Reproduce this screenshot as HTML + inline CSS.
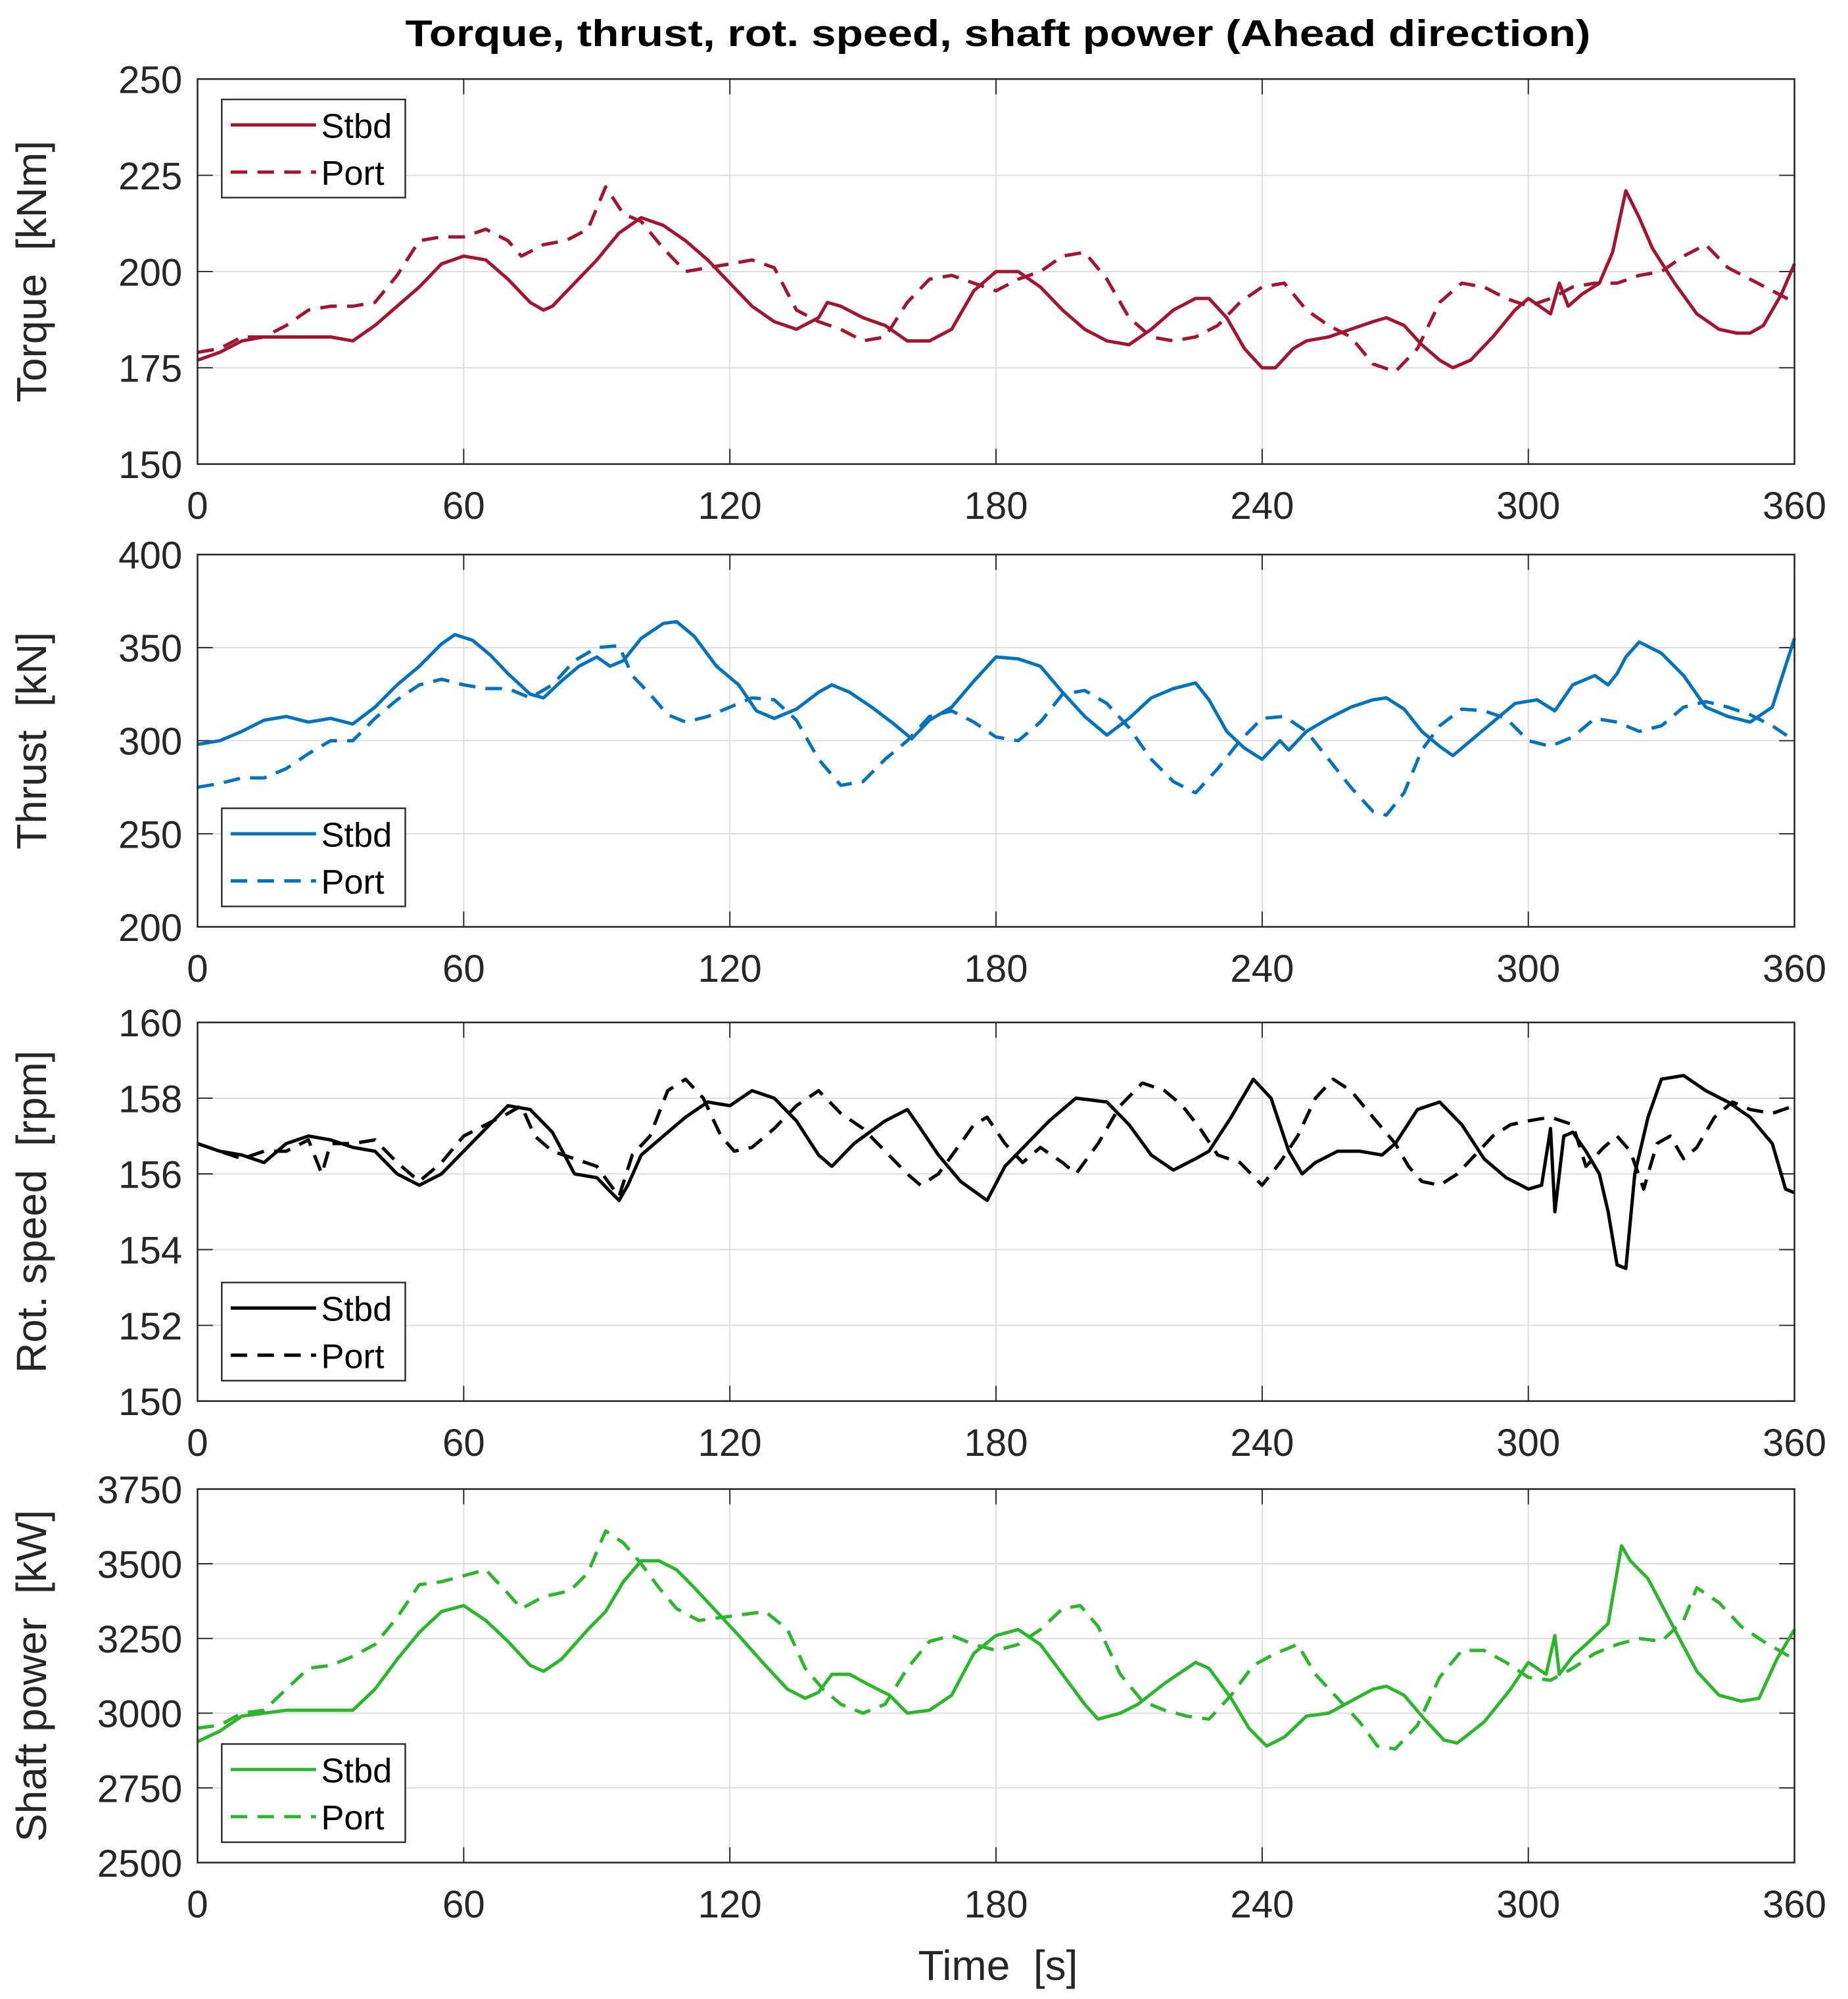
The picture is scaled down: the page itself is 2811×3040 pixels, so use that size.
<!DOCTYPE html>
<html><head><meta charset="utf-8"><style>html,body{margin:0;padding:0;background:#fff}svg{display:block}</style></head>
<body>
<svg id="fig" width="2811" height="3040" viewBox="0 0 1450 1568" preserveAspectRatio="none" xmlns="http://www.w3.org/2000/svg" font-family="Liberation Sans, Arial, sans-serif">
<rect width="1450" height="1568" fill="#fff"/>
<text x="783" y="36" text-anchor="middle" font-size="29" font-weight="bold" textLength="930" lengthAdjust="spacingAndGlyphs">Torque, thrust, rot. speed, shaft power (Ahead direction)</text>
<text x="783" y="1553" text-anchor="middle" font-size="33" fill="#262626">Time&#160;&#160;[s]</text>
</svg>
<script>
const xTicks=[0,60,120,180,240,300,360];
const torqueTicks=[150,175,200,225,250];
const thrustTicks=[200,250,300,350,400];
const speedTicks=[150,152,154,156,158,160];
const powerTicks=[2500,2750,3000,3250,3500,3750];
const torqueStbd=[[0,177],[5,179],[10,182],[15,183],[20,183],[25,183],[30,183],[35,182],[40,186],[45,191],[50,196],[55,202],[60,204],[65,203],[70,198],[75,192],[78,190],[80,191],[85,197],[90,203],[95,210],[100,214],[105,212],[110,208],[115,203],[120,197],[125,191],[130,187],[135,185],[140,188],[142,192],[145,191],[150,188],[155,186],[160,182],[165,182],[170,185],[175,195],[180,200],[185,200],[190,196],[195,190],[200,185],[205,182],[210,181],[215,185],[220,190],[225,193],[228,193],[232,188],[236,180],[240,175],[243,175],[247,180],[250,182],[255,183],[260,185],[265,187],[268,188],[272,186],[276,181],[280,177],[283,175],[287,177],[292,183],[297,190],[300,193],[305,189],[307,197],[309,191],[312,194],[316,197],[319,205],[322,221],[325,214],[328,206],[333,197],[338,189],[343,185],[347,184],[350,184],[353,186],[357,194],[360,202]];
const torquePort=[[0,179],[5,180],[10,183],[15,183],[20,186],[25,190],[30,191],[35,191],[40,192],[45,199],[50,208],[55,209],[60,209],[65,211],[70,208],[73,204],[78,207],[83,208],[88,211],[92,222],[96,215],[100,213],[105,206],[110,200],[115,201],[120,202],[125,203],[130,201],[135,190],[140,187],[145,185],[150,182],[155,183],[160,192],[165,198],[170,199],[175,197],[180,195],[185,198],[190,200],[195,204],[200,205],[205,198],[210,188],[215,183],[220,182],[225,183],[230,186],[235,192],[240,196],[245,197],[250,190],[255,186],[260,183],[265,176],[270,174],[275,180],[280,192],[285,197],[290,196],[295,193],[300,191],[305,193],[310,196],[315,197],[320,197],[325,199],[330,200],[335,204],[340,207],[345,201],[350,198],[355,195],[360,192]];
const thrustStbd=[[0,298],[5,300],[10,305],[15,311],[20,313],[25,310],[30,312],[35,309],[40,318],[45,330],[50,340],[55,352],[58,357],[62,354],[66,346],[70,336],[75,325],[78,323],[82,332],[86,340],[90,345],[93,340],[96,343],[100,355],[105,363],[108,364],[112,356],[117,340],[122,330],[126,316],[130,312],[135,317],[140,326],[143,330],[147,326],[152,318],[157,309],[161,301],[165,311],[170,318],[175,332],[180,345],[185,344],[190,340],[195,326],[200,313],[205,303],[210,312],[215,323],[220,328],[225,331],[228,322],[232,305],[236,296],[240,290],[244,300],[246,295],[250,305],[255,312],[260,318],[265,322],[268,323],[272,317],[276,305],[280,297],[283,292],[287,300],[292,310],[297,320],[302,322],[306,316],[310,330],[315,335],[318,330],[320,336],[322,345],[325,353],[330,347],[335,335],[340,318],[345,313],[350,310],[355,318],[360,355]];
const thrustPort=[[0,275],[5,277],[10,280],[15,280],[20,285],[25,293],[30,300],[35,300],[40,312],[45,322],[50,330],[55,333],[60,330],[65,328],[70,328],[75,323],[80,330],[85,343],[90,350],[95,351],[98,335],[102,325],[106,314],[110,310],[115,313],[120,318],[125,323],[130,322],[135,311],[140,290],[145,276],[150,278],[155,290],[160,300],[165,313],[170,316],[175,310],[180,302],[185,300],[190,310],[195,325],[200,327],[205,320],[210,307],[215,290],[220,278],[225,272],[230,285],[235,300],[240,312],[245,313],[250,305],[255,290],[260,275],[265,262],[268,260],[272,272],[276,295],[280,308],[285,317],[290,316],[295,312],[300,300],[305,297],[310,302],[315,312],[320,310],[325,305],[330,308],[335,318],[340,321],[345,318],[350,314],[355,308],[360,300]];
const speedStbd=[[0,156.8],[5,156.6],[10,156.5],[15,156.3],[20,156.8],[25,157.0],[30,156.9],[35,156.7],[40,156.6],[45,156.0],[50,155.7],[55,156.0],[60,156.6],[65,157.2],[70,157.8],[75,157.7],[80,157.1],[85,156.0],[90,155.9],[95,155.3],[97,155.7],[100,156.5],[105,157.0],[110,157.5],[115,157.9],[120,157.8],[125,158.2],[130,158.0],[135,157.4],[140,156.5],[143,156.2],[148,156.8],[155,157.4],[160,157.7],[163,157.2],[167,156.5],[172,155.8],[178,155.3],[182,156.2],[187,156.8],[192,157.4],[198,158.0],[205,157.9],[210,157.3],[215,156.5],[220,156.1],[225,156.4],[228,156.6],[233,157.5],[238,158.5],[242,158.0],[246,156.6],[249,156.0],[252,156.3],[257,156.6],[262,156.6],[267,156.5],[270,156.8],[275,157.7],[280,157.9],[285,157.3],[290,156.4],[295,155.9],[300,155.6],[303,155.7],[305,157.2],[306,155.0],[308,157.0],[310,157.1],[313,156.6],[316,156.0],[318,155.0],[320,153.6],[322,153.5],[324,156.0],[327,157.5],[330,158.5],[335,158.6],[340,158.2],[345,157.9],[350,157.5],[355,156.8],[358,155.6],[360,155.5]];
const speedPort=[[0,156.8],[5,156.6],[10,156.4],[15,156.6],[20,156.6],[25,156.9],[28,156.0],[30,156.8],[35,156.8],[40,156.9],[45,156.3],[50,155.8],[55,156.3],[60,157.0],[65,157.3],[70,157.6],[73,157.8],[76,157.0],[80,156.6],[85,156.4],[90,156.2],[95,155.4],[98,156.5],[102,157.0],[106,158.2],[110,158.5],[114,158.0],[118,157.0],[121,156.6],[125,156.7],[130,157.2],[135,157.8],[140,158.2],[145,157.6],[150,157.2],[155,156.6],[160,156.0],[163,155.7],[167,156.0],[172,156.8],[175,157.3],[178,157.5],[182,156.8],[186,156.3],[190,156.7],[195,156.3],[198,156.0],[203,156.8],[208,157.8],[213,158.4],[218,158.2],[222,157.8],[226,157.2],[230,156.5],[235,156.3],[240,155.7],[244,156.3],[248,157.0],[252,158.0],[256,158.5],[260,158.2],[265,157.5],[270,156.8],[273,156.2],[276,155.8],[280,155.7],[284,156.0],[288,156.5],[292,157.0],[296,157.3],[300,157.4],[305,157.5],[310,157.3],[313,156.2],[317,156.7],[320,157.0],[323,156.6],[326,155.6],[329,156.8],[332,157.0],[335,156.4],[338,156.7],[342,157.5],[346,157.9],[350,157.7],[355,157.6],[360,157.8]];
const powerStbd=[[0,2905],[5,2940],[10,2990],[15,3000],[20,3010],[25,3010],[30,3010],[35,3010],[40,3080],[45,3180],[50,3270],[55,3340],[60,3360],[65,3310],[70,3240],[75,3160],[78,3140],[82,3180],[88,3280],[92,3340],[96,3440],[100,3510],[104,3510],[108,3480],[112,3420],[117,3340],[122,3260],[128,3160],[133,3080],[137,3050],[140,3070],[143,3130],[147,3130],[152,3090],[156,3060],[160,3000],[165,3010],[170,3060],[175,3200],[180,3260],[185,3280],[190,3230],[195,3130],[200,3030],[203,2980],[208,3000],[212,3030],[218,3100],[225,3170],[228,3150],[233,3050],[237,2950],[241,2890],[245,2920],[250,2990],[255,3000],[260,3040],[265,3080],[268,3090],[272,3060],[276,2990],[281,2910],[284,2900],[290,2970],[296,3080],[300,3170],[304,3130],[306,3260],[307,3130],[310,3190],[313,3230],[318,3300],[321,3560],[323,3510],[327,3450],[333,3280],[338,3140],[343,3060],[348,3040],[352,3050],[356,3180],[360,3280]];
const powerPort=[[0,2950],[5,2960],[10,3000],[15,3010],[20,3080],[25,3150],[30,3160],[35,3190],[40,3230],[45,3320],[50,3430],[55,3440],[60,3460],[65,3480],[70,3400],[73,3350],[78,3390],[84,3410],[88,3470],[92,3610],[96,3570],[100,3500],[104,3420],[108,3350],[113,3310],[118,3320],[123,3330],[128,3340],[133,3280],[137,3150],[141,3080],[145,3030],[150,3000],[155,3030],[160,3150],[165,3240],[170,3260],[175,3230],[180,3210],[185,3230],[190,3280],[195,3350],[199,3360],[203,3290],[208,3130],[213,3040],[218,3010],[223,2990],[228,2980],[233,3060],[238,3160],[243,3200],[248,3230],[252,3130],[257,3050],[262,2970],[266,2890],[270,2880],[275,2960],[280,3120],[285,3210],[290,3210],[295,3170],[300,3120],[305,3110],[310,3150],[315,3200],[320,3230],[325,3250],[330,3240],[335,3310],[338,3420],[343,3370],[348,3290],[353,3240],[360,3180]];

const NS='http://www.w3.org/2000/svg';
const svg=document.getElementById('fig');
const L=155,R=1408;
function mk(tag,attrs,parent){const e=document.createElementNS(NS,tag);for(const k in attrs)e.setAttribute(k,attrs[k]);(parent||svg).appendChild(e);return e;}
function panel(key,top,bot,ticks,ylabel,color,stbd,port,legTop,legendName){
  const g=mk('g',{});
  
  
  const y0=ticks[0],y1=ticks[ticks.length-1];
  const xs=t=>L+(t-xTicks[0])/(xTicks[xTicks.length-1]-xTicks[0])*(R-L);
  const ys=v=>bot-(v-y0)/(y1-y0)*(bot-top);
  mk('rect',{x:L,y:top,width:R-L,height:bot-top,fill:'#fff'},g);
  xTicks.forEach(t=>{
    const gl=mk('line',{x1:xs(t),x2:xs(t),y1:top,y2:bot,stroke:'#dcdcdc','stroke-width':1},g);
    
    
    mk('line',{x1:xs(t),x2:xs(t),y1:bot,y2:bot-12,stroke:'#262626','stroke-width':1},g);
    mk('line',{x1:xs(t),x2:xs(t),y1:top,y2:top+12,stroke:'#262626','stroke-width':1},g);
    const tl=mk('text',{x:xs(t),y:bot+43,'text-anchor':'middle','font-size':30,fill:'#262626'},g);
    tl.textContent=t;
    
    
  });
  ticks.forEach(v=>{
    const gl=mk('line',{x1:L,x2:R,y1:ys(v),y2:ys(v),stroke:'#dcdcdc','stroke-width':1},g);
    
    
    mk('line',{x1:L,x2:L+12,y1:ys(v),y2:ys(v),stroke:'#262626','stroke-width':1},g);
    mk('line',{x1:R,x2:R-12,y1:ys(v),y2:ys(v),stroke:'#262626','stroke-width':1},g);
    const tl=mk('text',{x:143,y:ys(v)+11,'text-anchor':'end','font-size':30,fill:'#262626'},g);
    tl.textContent=v;
    
    
  });
  const yl=mk('text',{x:0,y:0,'text-anchor':'middle','font-size':33,fill:'#262626',transform:`translate(36 ${(top+bot)/2}) rotate(-90)`},g);
  yl.textContent=ylabel;
  
  
  const d=arr=>arr.map((p,i)=>(i?'L':'M')+xs(p[0]).toFixed(1)+' '+ys(p[1]).toFixed(1)).join('');
  const pp=mk('path',{d:d(port),fill:'none',stroke:color,'stroke-width':2.6,'stroke-dasharray':'13 8','stroke-linejoin':'round'},g);
  
  
  const sp=mk('path',{d:d(stbd),fill:'none',stroke:color,'stroke-width':2.6,'stroke-linejoin':'round'},g);
  
  
  mk('rect',{x:L,y:top,width:R-L,height:bot-top,fill:'none',stroke:'#262626','stroke-width':1.3},g);
  const lg=mk('g',{},g);
  
  
  mk('rect',{x:174,y:legTop,width:144,height:77,fill:'#fff',stroke:'#262626','stroke-width':1.2},lg);
  mk('line',{x1:181,x2:248,y1:legTop+20,y2:legTop+20,stroke:color,'stroke-width':2.6},lg);
  mk('line',{x1:181,x2:248,y1:legTop+57,y2:legTop+57,stroke:color,'stroke-width':2.6,'stroke-dasharray':'13 8'},lg);
  const t1=mk('text',{x:252,y:legTop+30,'font-size':27,fill:'#000'},lg);t1.textContent='Stbd';
  
  
  const t2=mk('text',{x:252,y:legTop+67,'font-size':27,fill:'#000'},lg);t2.textContent='Port';
  
  
}
panel('torque',62,364,torqueTicks,'Torque\u00a0\u00a0[kNm]','#A2142F',torqueStbd,torquePort,78,'torque-legend');
panel('thrust',435,727,thrustTicks,'Thrust\u00a0\u00a0[kN]','#0072BD',thrustStbd,thrustPort,634,'thrust-legend');
panel('rot-speed',802,1099,speedTicks,'Rot. speed\u00a0\u00a0[rpm]','#000000',speedStbd,speedPort,1006,'rot-speed-legend');
panel('shaft-power',1168,1461,powerTicks,'Shaft power\u00a0\u00a0[kW]','#2DB52D',powerStbd,powerPort,1368,'shaft-power-legend');
</script>
</body></html>
